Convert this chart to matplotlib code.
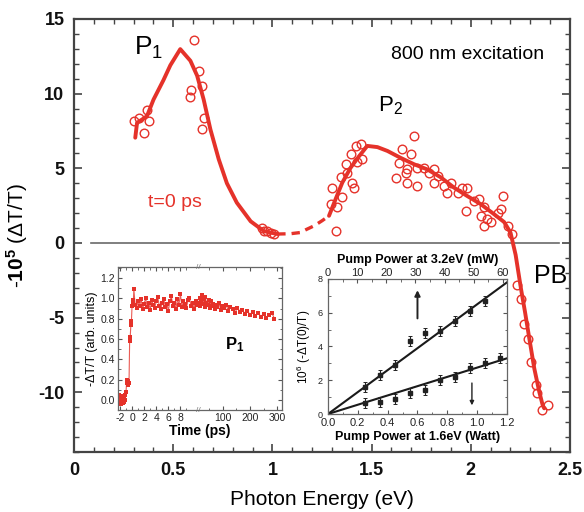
import numpy as np
import matplotlib
matplotlib.use("Agg")
import matplotlib.pyplot as plt
from matplotlib.ticker import MultipleLocator, FixedLocator
import matplotlib.transforms as mtransforms

plt.rcParams['font.family'] = ['Liberation Sans', 'DejaVu Sans']
plt.rcParams['axes.unicode_minus'] = False
plt.rcParams['mathtext.fontset'] = 'custom'
plt.rcParams['mathtext.rm'] = 'Liberation Sans'
plt.rcParams['mathtext.bf'] = 'Liberation Sans:bold'
plt.rcParams['mathtext.it'] = 'Liberation Sans:italic'

RED = '#e5322a'

# ---------------- main spectrum data ----------------
fit1_E = [0.308, 0.317, 0.367, 0.40, 0.45, 0.485, 0.535, 0.586, 0.62, 0.653, 0.687,
          0.729, 0.77, 0.82, 0.89, 0.956, 1.024]
fit1_y = [7.05, 8.04, 8.49, 9.6, 10.9, 11.9, 12.98, 12.2, 11.2, 9.6, 7.6,
          5.6, 4.0, 2.7, 1.45, 0.8, 0.6]

dash_E = [1.024, 1.09, 1.14, 1.17, 1.21, 1.25, 1.285]
dash_y = [0.6, 0.62, 0.7, 0.9, 1.15, 1.49, 1.82]

fit2_E = [1.285, 1.318, 1.352, 1.394, 1.436, 1.478, 1.529, 1.58, 1.646, 1.714, 1.78,
          1.848, 1.916, 1.98, 2.05, 2.117, 2.168, 2.2, 2.226, 2.253, 2.273, 2.295,
          2.32, 2.345, 2.362, 2.37]
fit2_y = [1.82, 2.93, 4.04, 5.04, 5.8, 6.5, 6.42, 6.16, 5.7, 5.27, 4.93,
          4.4, 3.7, 3.16, 2.6, 1.93, 1.4, 0.7, -0.8, -3.07, -4.6, -6.4,
          -8.4, -9.96, -10.84, -11.07]

pts_E = [0.30, 0.325, 0.35, 0.367, 0.375,
         0.603, 0.628, 0.589, 0.582, 0.645, 0.653, 0.645,
         0.948, 0.956, 0.973, 0.99, 1.007,
         1.318, 1.293, 1.327, 1.301, 1.352, 1.343, 1.377, 1.369, 1.402, 1.41,
         1.394, 1.419, 1.444, 1.453, 1.428,
         1.714, 1.655, 1.697, 1.638, 1.68, 1.621, 1.672, 1.68, 1.73, 1.73,
         1.764, 1.789, 1.815, 1.815, 1.832, 1.865, 1.882, 1.899, 1.933, 1.958,
         1.983, 1.975, 2.017, 2.042, 2.067, 2.05, 2.084, 2.067, 2.101, 2.135,
         2.16, 2.15, 2.185, 2.21,
         2.235, 2.252, 2.269, 2.286, 2.303, 2.328, 2.336, 2.387, 2.361]
pts_y = [8.16, 8.38, 7.38, 8.93, 8.16,
         13.6, 11.5, 10.27, 9.8, 10.5, 8.38, 7.6,
         1.0, 0.82, 0.82, 0.7, 0.6,
         0.82, 2.6, 2.4, 3.7, 3.1, 4.4, 4.71, 5.27, 4.04, 3.7,
         5.93, 6.49, 6.6, 5.6, 5.4,
         7.16, 6.27, 5.93, 5.38, 4.93, 4.38, 4.71, 4.04, 3.82, 5.04,
         5.04, 4.71, 4.93, 4.04, 4.49, 3.82, 3.38, 4.04, 3.38, 3.71,
         3.71, 2.16, 2.82, 2.93, 2.38, 1.82, 1.6, 1.16, 1.38, 2.04,
         3.16, 2.27, 1.16, 0.6,
         -2.84, -3.73, -5.4, -6.4, -7.96, -9.5, -10.06, -10.84, -11.18]

x_ticks = [0, 0.5, 1, 1.5, 2, 2.5]
x_ticklabels = ['0', '0.5', '1', '1.5', '2', '2.5']
y_ticks = [-10, -5, 0, 5, 10, 15]
y_ticklabels = ['-10', '-5', '0', '5', '10', '15']

# ---------------- inset 1: time trace ----------------
t_rise = [-2.3, -2.2, -2.1, -2.0, -1.9, -1.8, -1.7, -1.6, -1.5, -1.4, -1.3, -1.2,
          -1.1, -1.0, -0.9, -0.8, -0.7, -0.6, -0.5, -0.4, -0.3, -0.2, -0.1, 0.0,
          0.1, 0.2, 0.3]
s_rise = [0.02, -0.03, 0.05, -0.02, 0.03, -0.04, 0.01, 0.04, -0.03, 0.02, -0.02, 0.0,
          0.05, 0.08, 0.17, 0.20, 0.15, 0.19, 0.17, 0.58, 0.62, 0.74, 0.78, 0.93,
          0.98, 0.95, 1.09]
t_mid = [0.5, 0.75, 1.0, 1.25, 1.5, 1.75, 2.0, 2.25, 2.5, 2.75, 3.0, 3.25, 3.5, 3.75,
         4.0, 4.25, 4.5, 4.75, 5.0, 5.25, 5.5, 5.75, 6.0, 6.25, 6.5, 6.75, 7.0, 7.25,
         7.5, 7.75, 8.0, 8.25, 8.5, 8.75, 9.0, 9.25, 9.5, 9.75, 10.0, 10.25, 10.5, 10.75]
s_mid = [0.94, 0.91, 0.97, 0.93, 0.99, 0.90, 0.95, 1.00, 0.92, 0.96, 0.89, 0.98,
         0.94, 0.91, 0.97, 1.01, 0.93, 0.90, 0.96, 0.99, 0.92, 0.95, 0.88, 0.97,
         1.02, 0.93, 0.96, 0.90, 0.99, 0.94, 1.04, 0.92, 0.97, 0.95, 0.91, 0.98,
         1.00, 0.93, 0.96, 0.90, 0.97, 0.94]
t_late = [12, 15, 18, 20, 23, 26, 30, 33, 36, 40, 44, 48, 52, 56, 60, 65, 70, 75,
          80, 86, 92, 98, 105, 112, 120, 128, 136, 145, 154, 163, 172, 181, 190,
          200, 210, 220, 230, 240, 250, 260, 270, 280, 290]
s_late = [0.96, 1.00, 0.93, 0.98, 1.03, 0.95, 0.99, 0.92, 1.01, 0.96, 0.94, 0.98,
          0.91, 0.97, 0.93, 0.95, 0.90, 0.94, 0.92, 0.96, 0.89, 0.93, 0.91, 0.94,
          0.88, 0.92, 0.90, 0.86, 0.91, 0.87, 0.89, 0.85, 0.88, 0.84, 0.87, 0.83,
          0.86, 0.82, 0.85, 0.81, 0.84, 0.86, 0.80]
t_ticks = [-2, 0, 2, 4, 6, 8, 100, 200, 300]
t_ticklabels = ['-2', '0', '2', '4', '6', '8', '100', '200', '300']
BREAK_T = 11.0
LATE_SCALE = 0.045

# ---------------- inset 2: power dependence ----------------
pw_upper_x = [0.25, 0.35, 0.45, 0.55, 0.65, 0.75, 0.85, 0.95, 1.05]
pw_upper_y = [1.6, 2.3, 2.9, 4.3, 4.8, 4.9, 5.5, 6.1, 6.7]
pw_lower_x = [0.25, 0.35, 0.45, 0.55, 0.65, 0.75, 0.85, 0.95, 1.05, 1.15]
pw_lower_y = [0.65, 0.7, 0.9, 1.25, 1.4, 2.0, 2.2, 2.7, 3.0, 3.3]
pw_err = 0.3
fit_x = [0.0, 1.2]
fit_upper = [0.0, 7.8]
fit_lower = [0.0, 3.3]

# ---------------- figure ----------------
fig = plt.figure(figsize=(5.84, 5.12), dpi=100)
ax = fig.add_axes([0.127, 0.117, 0.849, 0.846])
ax.set_xlim(0, 2.5)
ax.set_ylim(-14, 15)

ax.axhline(0, xmin=0.033, xmax=0.978, color='#6a6a6a', lw=1.2, zorder=1)
ax.plot(fit1_E, fit1_y, color=RED, lw=2.8, solid_capstyle='round', zorder=3)
ax.plot(dash_E, dash_y, color=RED, lw=2.4, ls=(0, (2.5, 1.8)), zorder=3)
ax.plot(fit2_E, fit2_y, color=RED, lw=2.8, solid_capstyle='round', zorder=3)
ax.plot(pts_E, pts_y, 'o', mfc='none', mec=RED, ms=6.2, mew=1.0, zorder=2)

ax.set_xticks(x_ticks)
ax.set_xticklabels(x_ticklabels, fontweight='bold')
ax.set_yticks(y_ticks)
ax.set_yticklabels(y_ticklabels, fontweight='bold')
ax.xaxis.set_minor_locator(MultipleLocator(0.1))
ax.yaxis.set_minor_locator(MultipleLocator(1))
ax.tick_params(which='both', direction='in', top=True, right=True, colors='#444444',
               labelcolor='#111111', labelsize=13)
ax.tick_params(which='major', length=6, width=1.2, pad=7)
ax.tick_params(which='minor', length=3.5, width=1.0)
for s in ax.spines.values():
    s.set_color('#444444')
    s.set_linewidth(1.6)
ax.set_xlabel('Photon Energy (eV)', fontsize=15, labelpad=8)
ax.set_ylabel(r'$\mathbf{\text{-}10^5}$ (ΔT/T)', fontsize=15, labelpad=6)

ax.text(0.30, 12.6, 'P$_1$', fontsize=19, ha='left', va='baseline')
ax.text(1.53, 8.8, 'P$_2$', fontsize=16, ha='left', va='baseline')
ax.text(2.37, 12.3, '800 nm excitation', fontsize=14, ha='right', va='baseline')
ax.text(0.374, 2.4, 't=0 ps', fontsize=14, color=RED, ha='left', va='baseline')
ax.text(2.32, -2.7, 'PB', fontsize=18, ha='left', va='baseline')

# ---------------- inset 1 ----------------
def fwd(t):
    t = np.asarray(t, dtype=float)
    return np.where(t <= BREAK_T, t, BREAK_T + (t - BREAK_T) * LATE_SCALE)

def inv(u):
    u = np.asarray(u, dtype=float)
    return np.where(u <= BREAK_T, u, BREAK_T + (u - BREAK_T) / LATE_SCALE)

ax1 = fig.add_axes([0.202, 0.1992, 0.281, 0.2793])
ax1.set_xscale('function', functions=(fwd, inv))
t_all = t_rise + t_mid + t_late
s_all = s_rise + s_mid + s_late
ax1.plot(t_all, s_all, '-', color=RED, lw=0.8, alpha=0.8)
ax1.plot(t_all, s_all, 's', color=RED, ms=2.6, mew=0)
ax1.set_xlim(-2.33, 318)
ax1.set_ylim(-0.1, 1.31)
ax1.xaxis.set_major_locator(FixedLocator(t_ticks))
ax1.set_xticklabels(t_ticklabels)
ax1.xaxis.set_minor_locator(FixedLocator([-1, 1, 3, 5, 7, 9, 50, 150, 250]))
ax1.set_yticks([0, 0.2, 0.4, 0.6, 0.8, 1.0, 1.2])
ax1.set_yticklabels(['0.0', '0.2', '0.4', '0.6', '0.8', '1.0', '1.2'])
ax1.yaxis.set_minor_locator(MultipleLocator(0.1))
ax1.tick_params(which='both', direction='in', top=True, right=True, colors='#555555',
                labelcolor='#222222', labelsize=7.5, pad=2)
ax1.tick_params(which='major', length=3, width=0.8)
ax1.tick_params(which='minor', length=1.8, width=0.6)
for s in ax1.spines.values():
    s.set_color('#666666')
    s.set_linewidth(0.9)
ax1.set_xlabel('Time (ps)', fontsize=10, fontweight='bold', labelpad=1)
ax1.set_ylabel('-ΔT/T (arb. units)', fontsize=9, labelpad=2)
ax1.text(107, 0.5, r'$\mathbf{P_1}$', fontsize=12, ha='left', va='baseline')
btrans = mtransforms.blended_transform_factory(ax1.transData, ax1.transAxes)
for yy in (0.0, 1.0):
    ax1.text(BREAK_T, yy, '//', transform=btrans, fontsize=6, color='#777777',
             ha='center', va='center', clip_on=False)

# ---------------- inset 2 ----------------
ax2 = fig.add_axes([0.5616, 0.1914, 0.3065, 0.2637])
ax2.set_xlim(0, 1.2)
ax2.set_ylim(0, 8)
ax2.plot(fit_x, fit_upper, color='#1a1a1a', lw=1.5)
ax2.plot(fit_x, fit_lower, color='#1a1a1a', lw=1.5)
ax2.errorbar(pw_upper_x, pw_upper_y, yerr=pw_err, fmt='s', color='#222222', ms=2.2,
             elinewidth=0.8, capsize=1.2, capthick=0.7)
ax2.errorbar(pw_lower_x, pw_lower_y, yerr=pw_err, fmt='s', color='#222222', ms=2.2,
             elinewidth=0.8, capsize=1.2, capthick=0.7)
ax2.annotate('', xy=(0.60, 7.5), xytext=(0.60, 5.5),
             arrowprops=dict(arrowstyle='-|>', color='#222222', lw=1.4, mutation_scale=8))
ax2.annotate('', xy=(0.965, 0.35), xytext=(0.965, 2.0),
             arrowprops=dict(arrowstyle='-|>', color='#222222', lw=1.0, mutation_scale=6))
ax2.set_xticks([0, 0.2, 0.4, 0.6, 0.8, 1.0, 1.2])
ax2.set_xticklabels(['0.0', '0.2', '0.4', '0.6', '0.8', '1.0', '1.2'])
ax2.set_yticks([0, 2, 4, 6, 8])
ax2.xaxis.set_minor_locator(MultipleLocator(0.1))
ax2.yaxis.set_minor_locator(MultipleLocator(1))
ax2.tick_params(which='both', direction='in', right=True, colors='#555555',
                labelcolor='#222222')
ax2.tick_params(axis='x', labelsize=8, pad=3)
ax2.tick_params(axis='y', labelsize=6.5, pad=4)
ax2.tick_params(which='major', length=3, width=0.8)
ax2.tick_params(which='minor', length=1.8, width=0.6)
for s in ax2.spines.values():
    s.set_color('#666666')
    s.set_linewidth(0.9)
ax2.set_xlabel('Pump Power at 1.6eV (Watt)', fontsize=9, fontweight='bold', labelpad=2)
ax2.set_ylabel('10$^6$ (-ΔT(0)/T)', fontsize=8.5, labelpad=3)

ax2t = ax2.twiny()
ax2t.set_xlim(0, 61.4)
ax2t.set_xticks([0, 10, 20, 30, 40, 50, 60])
ax2t.xaxis.set_minor_locator(MultipleLocator(5))
ax2t.tick_params(which='both', direction='in', colors='#555555', labelcolor='#222222',
                 labelsize=8, pad=1)
ax2t.tick_params(which='major', length=3, width=0.8)
ax2t.tick_params(which='minor', length=1.8, width=0.6)
for s in ax2t.spines.values():
    s.set_visible(False)
ax2t.set_xlabel('Pump Power at 3.2eV (mW)', fontsize=9, fontweight='bold', labelpad=3)

fig.savefig('out.png', dpi=100, facecolor='white')
